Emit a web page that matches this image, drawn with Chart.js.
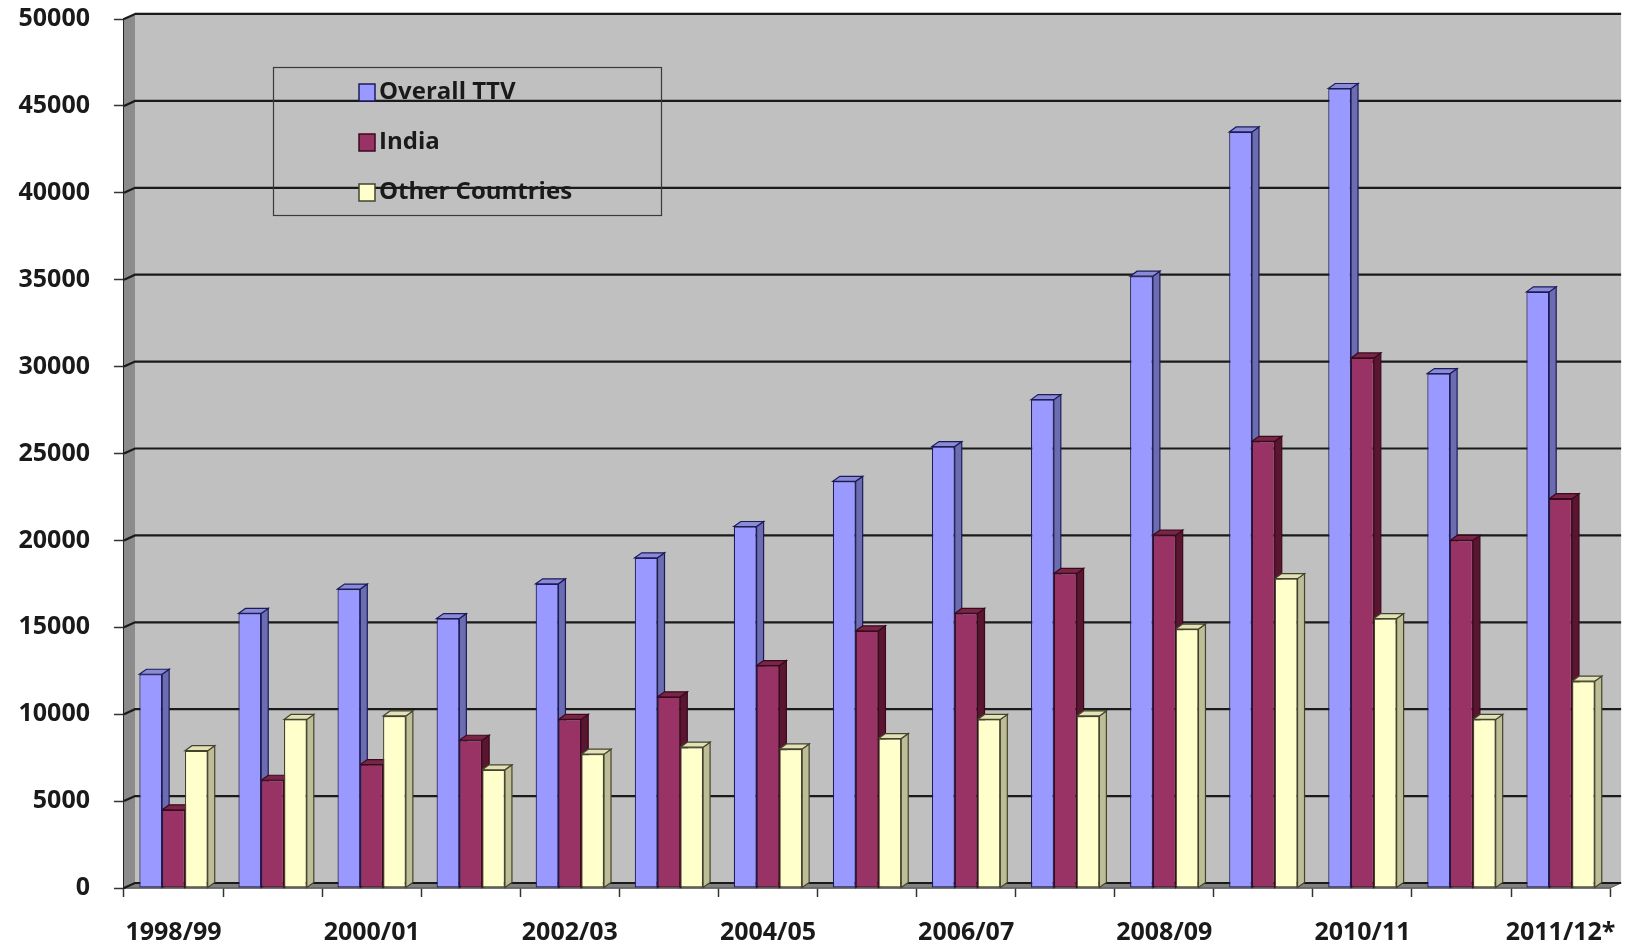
<!DOCTYPE html>
<html lang="en">
<head>
  <meta charset="UTF-8" />
  <title>Overall TTV, India and Other Countries</title>
  <script src="https://cdn.jsdelivr.net/npm/chart.js"></script>
  <style>
    html, body { margin: 0; padding: 0; background: #fff; }
    .wrap { width: 1637px; height: 948px; position: relative; }
  </style>
</head>
<body>
  <div class="wrap"><canvas id="chart"></canvas></div>

  <script>
    // data
    const years = ['1998/99', '1999/00', '2000/01', '2001/02', '2002/03', '2003/04', '2004/05', '2005/06',
                   '2006/07', '2007/08', '2008/09', '2009/10', '2010/11', '2011/12', '2011/12*'];
    const overallTTV = [12300, 15800, 17200, 15500, 17500, 19000, 20800, 23400, 25400, 28100, 35200, 43500, 46000, 29600, 34300];
    const india      = [4500, 6200, 7100, 8500, 9700, 11000, 12800, 14800, 15800, 18100, 20300, 25700, 30500, 20000, 22400];
    const others     = [7900, 9700, 9900, 6800, 7700, 8100, 8000, 8600, 9700, 9900, 14900, 17800, 15500, 9700, 11900];
    const yTicks     = [0, 5000, 10000, 15000, 20000, 25000, 30000, 35000, 40000, 45000, 50000];

    const FONT = { family: '"Open Sans", Lato, sans-serif', size: 25, weight: 'bold' };

    // face colours per series: front, side, top, edge
    const faces = [
      { front: '#9999ff', side: '#6c6cb0', top: '#8a8ad6', edge: '#1c1c5c' },
      { front: '#993366', side: '#5a1530', top: '#7a2447', edge: '#3a0a1c' },
      { front: '#ffffcc', side: '#bdbd98', top: '#e2e2b6', edge: '#44442c' }
    ];

    // wall depth and bar depth (pixels)
    const WX = 11, WY = -5;
    const BX = 7, BY = -5;

    const threeD = {
      id: 'threeD',
      beforeDatasetsDraw(chart) {
        const { ctx, chartArea: a, scales } = chart;
        const y = scales.y;
        ctx.save();

        // back wall
        ctx.fillStyle = '#c0c0c0';
        ctx.fillRect(a.left + WX, a.top + WY - 2, a.right - a.left, a.bottom - a.top + 2);

        // left wall
        ctx.fillStyle = '#8c8c8c';
        ctx.beginPath();
        ctx.moveTo(a.left, a.top);
        ctx.lineTo(a.left + WX, a.top + WY);
        ctx.lineTo(a.left + WX, a.bottom + WY);
        ctx.lineTo(a.left, a.bottom);
        ctx.closePath();
        ctx.fill();

        // floor
        ctx.fillStyle = '#808080';
        ctx.beginPath();
        ctx.moveTo(a.left, a.bottom);
        ctx.lineTo(a.left + WX, a.bottom + WY);
        ctx.lineTo(a.right + WX, a.bottom + WY);
        ctx.lineTo(a.right, a.bottom);
        ctx.closePath();
        ctx.fill();
        ctx.strokeStyle = '#555';
        ctx.lineWidth = 1;
        ctx.stroke();

        // gridlines on left wall and back wall
        ctx.strokeStyle = '#1a1a1a';
        ctx.lineWidth = 2.2;
        y.ticks.forEach(t => {
          const py = y.getPixelForValue(t.value);
          ctx.beginPath();
          ctx.moveTo(a.left, py);
          ctx.lineTo(a.left + WX, py + WY);
          ctx.lineTo(a.right + WX, py + WY);
          ctx.stroke();
        });

        // side and top faces, drawn before fronts so neighbours hide them
        chart.data.datasets.forEach((ds, i) => {
          const meta = chart.getDatasetMeta(i);
          const f = faces[i];
          ctx.lineWidth = 1.2;
          ctx.strokeStyle = f.edge;
          meta.data.forEach(bar => {
            const l = bar.x - bar.width / 2, r = bar.x + bar.width / 2;
            ctx.fillStyle = f.side;
            ctx.beginPath();
            ctx.moveTo(r, bar.y);
            ctx.lineTo(r + BX, bar.y + BY);
            ctx.lineTo(r + BX, bar.base + BY);
            ctx.lineTo(r, bar.base);
            ctx.closePath();
            ctx.fill();
            ctx.stroke();
            ctx.fillStyle = f.top;
            ctx.beginPath();
            ctx.moveTo(l, bar.y);
            ctx.lineTo(l + BX, bar.y + BY);
            ctx.lineTo(r + BX, bar.y + BY);
            ctx.lineTo(r, bar.y);
            ctx.closePath();
            ctx.fill();
            ctx.stroke();
          });
        });
        ctx.restore();
      },
      afterDraw(chart) {
        // legend box floating over the wall
        const { ctx, chartArea: a } = chart;
        const bx = a.left + 149, by = a.top + 48;
        ctx.save();
        ctx.strokeStyle = '#3a3a3a';
        ctx.lineWidth = 1.2;
        ctx.strokeRect(bx + 0.5, by + 0.5, 388, 148);
        ctx.font = `bold 24px ${FONT.family}`;
        ctx.textBaseline = 'middle';
        chart.data.datasets.forEach((ds, i) => {
          const cy = by + 25 + i * 50;
          ctx.fillStyle = faces[i].front;
          ctx.fillRect(bx + 86, cy - 8, 16, 17);
          ctx.strokeStyle = faces[i].edge;
          ctx.lineWidth = 1.5;
          ctx.strokeRect(bx + 86, cy - 8, 16, 17);
          ctx.fillStyle = '#1a1a1a';
          ctx.fillText(ds.label, bx + 106, cy);
        });
        ctx.restore();
      }
    };

    new Chart(document.getElementById('chart'), {
      type: 'bar',
      data: {
        labels: years,
        datasets: [
          { label: 'Overall TTV', data: overallTTV },
          { label: 'India', data: india },
          { label: 'Other Countries', data: others }
        ].map((d, i) => ({
          ...d,
          backgroundColor: faces[i].front,
          borderColor: faces[i].edge,
          borderWidth: 1.2,
          borderSkipped: false,
          categoryPercentage: 0.69,
          barPercentage: 1.0
        }))
      },
      options: {
        responsive: true,
        maintainAspectRatio: false,
        animation: false,
        layout: { padding: { top: 0, right: 17, left: 0, bottom: 0 } },
        plugins: {
          legend: { display: false },
          tooltip: { enabled: false }
        },
        scales: {
          x: {
            grid: { offset: true, drawOnChartArea: false, tickLength: 9, color: '#333', tickWidth: 1.5 },
            border: { display: true, color: '#333', width: 1.5 },
            ticks: {
              autoSkip: false,
              maxRotation: 0,
              padding: 21,
              color: '#1a1a1a',
              font: FONT,
              callback: (v, i) => (i % 2 === 0 ? years[i] : '')
            },
            afterFit: s => { s.height = 60; }
          },
          y: {
            min: 0,
            max: 50000,
            afterBuildTicks: s => { s.ticks = yTicks.map(v => ({ value: v })); },
            grid: { drawOnChartArea: false, tickLength: 10, color: '#333', tickWidth: 1.5 },
            border: { display: true, color: '#222', width: 2.5 },
            ticks: { padding: 24, color: '#1a1a1a', font: FONT, callback: v => String(v) },
            afterFit: s => { s.width = 124; s.paddingTop = 19; }
          }
        }
      },
      plugins: [threeD]
    });
  </script>
</body>
</html>
